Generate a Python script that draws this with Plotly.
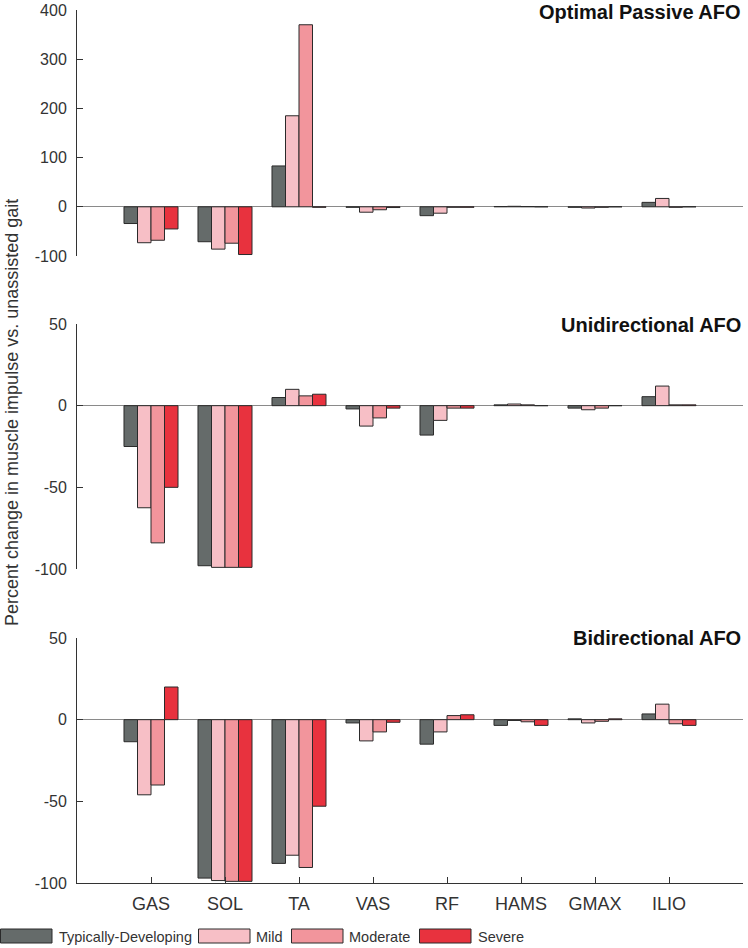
import plotly.graph_objects as go

# ---------------- data ----------------
muscles = ["GAS", "SOL", "TA", "VAS", "RF", "HAMS", "GMAX", "ILIO"]
groups = ["Typically-Developing", "Mild", "Moderate", "Severe"]
group_colors = ["#656b6a", "#f7bfc6", "#f2959c", "#e8323e"]

panel_titles = ["Optimal Passive AFO", "Unidirectional AFO", "Bidirectional AFO"]

passive_td = [-34, -71, 83, -1, -18, 0.5, -1, 9]
passive_mild = [-73, -86, 185, -11, -13, 1, -2.5, 17]
passive_mod = [-68, -74, 370, -6, -1, 0.5, -1, -1]
passive_sev = [-45, -97, -1, -1.5, -1, 0, 0, 0]

uni_td = [-25, -98, 5, -2, -18, 0.5, -1.5, 5.5]
uni_mild = [-62.5, -99, 10, -12.5, -9, 1, -2.5, 12]
uni_mod = [-84, -99, 6, -7.5, -1.5, 0.5, -1.5, 0.5]
uni_sev = [-50, -99, 7, -1.5, -1.5, 0, 0, 0.5]

bi_td = [-13.5, -97, -88, -2, -15, -3.5, 0.5, 3.5]
bi_mild = [-46, -98.5, -83, -13, -7.5, -0.5, -2, 9.5]
bi_mod = [-40, -99, -90.5, -7.5, 2.5, -1.3, -1, -2.5]
bi_sev = [20, -99, -53, -1.6, 3, -3.5, 0.5, -3.5]

panels = [
    [passive_td, passive_mild, passive_mod, passive_sev],
    [uni_td, uni_mild, uni_mod, uni_sev],
    [bi_td, bi_mild, bi_mod, bi_sev],
]

top_ticks = [-100, 0, 100, 200, 300, 400]
top_ticklabels = ["-100", "0", "100", "200", "300", "400"]
low_ticks = [-100, -50, 0, 50]
low_ticklabels = ["-100", "-50", "0", "50"]
y_ranges = [[-100, 400], [-100, 50], [-100, 50]]

ytitle = "Percent change in muscle impulse vs. unassisted gait"

# ---------------- layout helpers ----------------
W, H = 748, 948
def px_x(p):
    return p / W
def px_y(p):
    return (H - p) / H

x_dom = [px_x(77), px_x(743)]
y_doms = [[px_y(256), px_y(10)], [px_y(569), px_y(324)], [px_y(883), px_y(638)]]
title_y = [12, 325, 638]

FONT = "Liberation Sans, Arial, sans-serif"
TXT = "#333333"

fig = go.Figure()

for pi, series in enumerate(panels):
    xa = "x" if pi == 0 else f"x{pi+1}"
    ya = "y" if pi == 0 else f"y{pi+1}"
    for gi, vals in enumerate(series):
        fig.add_trace(go.Bar(
            x=muscles, y=vals, name=groups[gi],
            marker=dict(color=group_colors[gi], line=dict(color="#2a2a2a", width=1)),
            xaxis=xa, yaxis=ya, showlegend=False,
            offsetgroup=str(gi),
        ))

layout = dict(
    template="none",
    width=W, height=H, autosize=False,
    margin=dict(l=0, r=0, t=0, b=0, pad=0),
    paper_bgcolor="white", plot_bgcolor="white",
    barmode="group", bargap=0.27, bargroupgap=0,
    font=dict(family=FONT, color=TXT),
    showlegend=False,
)

for pi in range(3):
    xk = "xaxis" if pi == 0 else f"xaxis{pi+1}"
    yk = "yaxis" if pi == 0 else f"yaxis{pi+1}"
    ya = "y" if pi == 0 else f"y{pi+1}"
    xa = "x" if pi == 0 else f"x{pi+1}"
    bottom = pi == 2
    layout[xk] = dict(
        domain=x_dom, anchor=ya, type="category",
        categoryorder="array", categoryarray=muscles,
        range=[-1, 8], automargin=False,
        showgrid=False, zeroline=False,
        showline=bottom, linecolor="#333333", linewidth=1,
        ticks="inside" if bottom else "", ticklen=6, tickcolor="#333333",
        showticklabels=bottom,
        tickfont=dict(size=18, family=FONT, color=TXT),
        ticklabelstandoff=4,
        fixedrange=True,
    )
    tv = top_ticks if pi == 0 else low_ticks
    tt = top_ticklabels if pi == 0 else low_ticklabels
    layout[yk] = dict(
        domain=y_doms[pi], anchor=xa, range=y_ranges[pi], automargin=False,
        tickmode="array", tickvals=tv, ticktext=tt,
        showgrid=False,
        zeroline=True, zerolinecolor="#8a8a8a", zerolinewidth=1,
        showline=True, linecolor="#333333", linewidth=1,
        ticks="inside", ticklen=6, tickcolor="#333333",
        tickfont=dict(size=16, family=FONT, color=TXT),
        ticklabelstandoff=6,
        fixedrange=True,
    )

annotations = []
for pi, t in enumerate(panel_titles):
    annotations.append(dict(
        text=f"<b>{t}</b>", xref="paper", yref="paper",
        x=px_x(743), y=px_y(title_y[pi]), xanchor="right", yanchor="middle",
        showarrow=False, font=dict(size=20, family=FONT, color="#111111"),
    ))
annotations.append(dict(
    text=ytitle, xref="paper", yref="paper",
    x=px_x(12), y=px_y(413), xanchor="center", yanchor="middle",
    textangle=-90, showarrow=False,
    font=dict(size=18, family=FONT, color=TXT),
))

# custom legend (wide swatches like the original)
sw_x = [0, 198, 291, 419]
txt_x = [57, 254, 347, 476]
shapes = []
for gi, name in enumerate(groups):
    shapes.append(dict(
        type="rect", xref="paper", yref="paper",
        x0=px_x(sw_x[gi] + 0.5), x1=px_x(sw_x[gi] + 52), y0=px_y(943), y1=px_y(929),
        fillcolor=group_colors[gi], line=dict(color="#2a2a2a", width=1),
    ))
    annotations.append(dict(
        text=name, xref="paper", yref="paper",
        x=px_x(txt_x[gi]), y=px_y(937), xanchor="left", yanchor="middle",
        showarrow=False,
        font=dict(size=14.5, family=FONT, color=TXT),
    ))

layout["annotations"] = annotations
layout["shapes"] = shapes
fig.update_layout(**layout)

fig.write_html(
    "out.html",
    config={"displayModeBar": False},
    post_script="document.body.style.margin='0';document.body.style.overflow='hidden';",
)
